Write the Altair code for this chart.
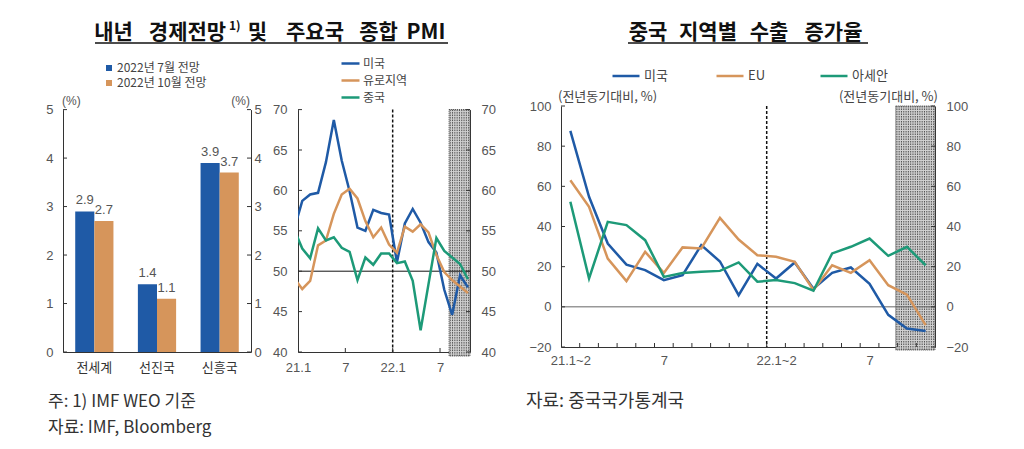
import altair as alt
import numpy as np
import pandas as pd

# ---------------- data ----------------
bar_regions = ["전세계", "선진국", "신흥국"]
bar_series = ["2022년 7월 전망", "2022년 10월 전망"]
jul_forecast = [2.9, 1.4, 3.9]
oct_forecast = [2.7, 1.1, 3.7]

pmi_series = ["미국", "유로지역", "중국"]
pmi_months = ["20.12", "21.1", "21.2", "21.3", "21.4", "21.5", "21.6", "21.7", "21.8", "21.9",
              "21.10", "21.11", "21.12", "22.1", "22.2", "22.3", "22.4", "22.5", "22.6", "22.7",
              "22.8", "22.9", "22.10"]
pmi_us = [55.3, 58.7, 59.5, 59.7, 63.5, 68.7, 63.7, 59.9, 55.4, 55.0, 57.6, 57.2, 57.0,
          51.1, 55.9, 57.7, 56.0, 53.6, 52.3, 47.7, 44.6, 49.5, 48.0]
pmi_euro = [49.1, 47.8, 48.8, 53.2, 53.8, 57.1, 59.5, 60.2, 59.0, 56.2, 54.2, 55.4, 53.3,
            52.3, 55.5, 54.9, 55.8, 54.8, 52.0, 49.9, 48.9, 48.1, 47.3]
pmi_china = [55.1, 52.8, 51.6, 55.3, 53.8, 54.2, 52.9, 52.4, 48.9, 51.7, 50.8, 52.2, 52.2,
             51.0, 51.2, 48.8, 42.7, 48.4, 54.1, 52.5, 51.7, 50.9, 49.0]
pmi_tick_labels = ["21.1", "7", "22.1", "7"]

exp_series = ["미국", "EU", "아세안"]
exp_periods = ["21.1~2", "21.3", "21.4", "21.5", "21.6", "21.7", "21.8", "21.9", "21.10",
               "21.11", "21.12", "22.1~2", "22.3", "22.4", "22.5", "22.6", "22.7", "22.8",
               "22.9", "22.10"]
exp_us = [87.6, 54.8, 31.5, 21.0, 18.3, 13.3, 15.8, 30.7, 22.6, 5.8, 21.4, 14.1, 22.1,
          9.0, 16.9, 19.6, 11.5, -4.0, -10.8, -12.0]
exp_eu = [63.0, 49.8, 24.0, 12.8, 27.4, 16.9, 29.6, 29.1, 44.3, 33.5, 25.7, 24.9, 22.4,
          8.3, 20.7, 16.9, 23.2, 10.8, 6.1, -9.1]
exp_asean = [52.3, 14.1, 42.3, 40.7, 33.2, 14.9, 16.8, 17.5, 17.9, 22.1, 12.5, 13.3, 11.8,
             8.0, 26.6, 29.9, 34.0, 25.4, 29.9, 20.7]
exp_tick_labels = {"21.1~2": "21.1~2", "21.7": "7", "22.1~2": "22.1~2", "22.7": "7"}

title_left_words = ["내년", "경제전망", "및", "주요국", "종합", "PMI"]
title_right_words = ["중국", "지역별", "수출", "증가율"]

# ---------------- style ----------------
KR = "Noto Sans CJK KR"
NUM = "Liberation Sans"
BLUE = "#1f5aa6"
ORANGE = "#d6955b"
GREEN = "#1d9a78"
AXIS = "#333333"
LBL = "#555555"

H1 = 246          # bar/PMI panel height (group top to baseline)
TOP1 = 3.6        # top of bar/PMI scales inside the group
W_BAR, W_PMI, W_EXP, H_EXP = 188, 172, 374, 241
GAP = 10
PMI_OFFSET = 0.54
PMI_DOMAIN = [0, 21.8]
PMI_SHADE = (19.15, 21.8)
EXP_SHADE = (17.9, 20)
HATCH_PX = 2.3
TITLE_Y = -73

# word centres (pixels, relative to each panel's plot origin)
title_left_x = [50.5, 124.5, 194.5, 252, 315.5, 363]
title_right_x = [87, 147, 208, 272.5]

one = pd.DataFrame({"a": [0]})


def txt(text, x, y, size=12, align="left", color="#444444", weight="normal", font=KR,
        baseline="middle"):
    return alt.Chart(one).mark_text(text=text, align=align, baseline=baseline, font=font,
                                    fontSize=size, fontWeight=weight, color=color).encode(
        x=alt.value(x), y=alt.value(y))


def hline(x1, x2, y, color="#111111", width=1.5):
    return alt.Chart(one).mark_rule(color=color, strokeWidth=width).encode(
        x=alt.value(x1), x2=alt.value(x2), y=alt.value(y))


def pin(x, y):
    return alt.Chart(one).mark_rect(opacity=0).encode(
        x=alt.value(x), x2=alt.value(x + 1), y=alt.value(y), y2=alt.value(y + 1))


def spacer(w):
    return alt.Chart(one).mark_point(opacity=0).encode(
        x=alt.value(0), y=alt.value(0)).properties(width=w, height=H1)


def yaxis_left(values, pad):
    return alt.Axis(orient="left", values=values, title=None, tickSize=0, labelPadding=pad,
                    domainColor=AXIS, labelColor=LBL, labelFont=NUM, labelFontSize=13,
                    grid=False)


def yaxis_right(values, pad):
    return alt.Axis(orient="right", values=values, title=None, tickSize=0, labelPadding=pad,
                    domainColor=AXIS, labelColor=LBL, labelFont=NUM, labelFontSize=13,
                    grid=False)


def y_ticks(values, scale, x1, x2, axis):
    df = pd.DataFrame({"v": values})
    return alt.Chart(df).mark_rule(color=AXIS, strokeWidth=1).encode(
        y=alt.Y("v:Q", scale=scale, axis=axis), x=alt.value(x1), x2=alt.value(x2))


def shade_layers(start, end, xscale, xaxis, y1, y2, px_per_unit):
    base = alt.Chart(pd.DataFrame({"s": [start], "e": [end]})).mark_rect(
        fill="#d0d0d0", stroke="#444444", strokeDash=[1, 1], strokeWidth=1).encode(
        x=alt.X("s:Q", scale=xscale, axis=xaxis), x2="e:Q",
        y=alt.value(y1), y2=alt.value(y2))
    step = HATCH_PX / px_per_unit
    hatch_x = np.arange(start + step / 2, end, step)
    hatch = alt.Chart(pd.DataFrame({"h": hatch_x})).mark_rule(
        color="#505050", strokeWidth=1, strokeDash=[1.5, 1]).encode(
        x=alt.X("h:Q", scale=xscale, axis=xaxis), y=alt.value(y1), y2=alt.value(y2))
    return [base, hatch]


# ---------------- bar panel ----------------
bar_df = pd.DataFrame({
    "region": bar_regions * 2,
    "series": [bar_series[0]] * 3 + [bar_series[1]] * 3,
    "value": jul_forecast + oct_forecast,
})
bar_y = alt.Scale(domain=[0, 5], range=[H1, TOP1], nice=False, zero=False)
bar_x = alt.X("region:N", sort=bar_regions,
              scale=alt.Scale(domain=bar_regions, paddingInner=0.39, paddingOuter=0.195),
              axis=alt.Axis(title=None, labelAngle=0, labelFont=KR, labelFontSize=13,
                            labelColor="#333333", ticks=False, labelPadding=9,
                            domainColor=AXIS))
bar_off = alt.XOffset("series:N", sort=bar_series,
                      scale=alt.Scale(domain=bar_series, paddingInner=0, paddingOuter=0))

bars = alt.Chart(bar_df).mark_bar().encode(
    x=bar_x, xOffset=bar_off,
    y=alt.Y("value:Q", scale=bar_y, axis=yaxis_left([0, 1, 2, 3, 4, 5], 10)),
    color=alt.Color("series:N", sort=bar_series,
                    scale=alt.Scale(domain=bar_series, range=[BLUE, ORANGE]),
                    legend=alt.Legend(orient="none", legendX=40, legendY=-44, title=None,
                                      symbolType="square", symbolSize=36, symbolStrokeWidth=0,
                                      labelFont=KR, labelFontSize=12, labelColor="#444444",
                                      labelOffset=2, rowPadding=3, padding=0, offset=0)),
)
bar_text = alt.Chart(bar_df).mark_text(baseline="bottom", dy=-4, font=NUM, fontSize=13,
                                       color=LBL).encode(
    x=bar_x, xOffset=bar_off,
    y=alt.Y("value:Q", scale=bar_y, axis=None),
    text=alt.Text("value:Q", format=".1f"),
)
bar_lt = y_ticks([0, 1, 2, 3, 4, 5], bar_y, 0, 4, None)
bar_rt = y_ticks([0, 1, 2, 3, 4, 5], bar_y, W_BAR - 4, W_BAR, yaxis_right([0, 1, 2, 3, 4, 5], 3))

left_title = [txt(w, x, TITLE_Y, size=21, align="center", weight="bold", color="#111111")
              for w, x in zip(title_left_words, title_left_x)]

bar_panel = alt.layer(
    pin(-55, -97.7), pin(-55, 334), bars, bar_text, bar_lt, bar_rt,
    txt("(%)", -1, -5, size=12, font=NUM, color=LBL),
    txt("(%)", W_BAR - 1, -5, size=12, align="right", font=NUM, color=LBL),
    *left_title,
    txt("1)", 166, -80, size=12, weight="bold", color="#111111"),
    hline(32, 385, -63),
    txt("주: 1) IMF WEO 기준", -15, 296, size=17, color="#333333"),
    txt("자료: IMF, Bloomberg", -15, 322, size=17, color="#333333"),
).resolve_scale(y="independent").properties(width=W_BAR, height=H1)

# ---------------- PMI panel ----------------
pmi_rows = []
for name, vals in zip(pmi_series, [pmi_us, pmi_euro, pmi_china]):
    for i, (m, v) in enumerate(zip(pmi_months, vals)):
        pmi_rows.append({"month": m, "t": i - 1 + PMI_OFFSET, "value": v, "series": name})
pmi_df = pd.DataFrame(pmi_rows)

pmi_y = alt.Scale(domain=[40, 70], range=[H1, TOP1], nice=False, zero=False)
pmi_xs = alt.Scale(domain=PMI_DOMAIN, nice=False, zero=False)
pmi_tick_vals = [0, 6, 12, 18]
label_expr = " : ".join(
    f"datum.value == {v} ? '{l}'" for v, l in zip(pmi_tick_vals, pmi_tick_labels)) + " : ''"
pmi_xaxis = alt.Axis(values=pmi_tick_vals, labelExpr=label_expr, title=None, tickSize=0,
                     labelPadding=9, labelFont=NUM, labelFontSize=13, labelColor=LBL,
                     domainColor=AXIS, grid=False, labelFlush=False)

pmi_shade = shade_layers(PMI_SHADE[0], PMI_SHADE[1], pmi_xs, pmi_xaxis, TOP1, H1 + 4,
                         W_PMI / (PMI_DOMAIN[1] - PMI_DOMAIN[0]))

pmi_lines = alt.Chart(pmi_df).mark_line(strokeWidth=2.5, clip=True).encode(
    x=alt.X("t:Q", scale=pmi_xs, axis=pmi_xaxis),
    y=alt.Y("value:Q", scale=pmi_y, axis=yaxis_left([40, 45, 50, 55, 60, 65, 70], 11)),
    color=alt.Color("series:N", sort=pmi_series,
                    scale=alt.Scale(domain=pmi_series, range=[BLUE, ORANGE, GREEN]),
                    legend=alt.Legend(orient="none", legendX=42, legendY=-53, title=None,
                                      symbolType="stroke", symbolSize=324,
                                      symbolStrokeWidth=2.5, labelFont=KR, labelFontSize=12,
                                      labelColor="#444444", labelOffset=2, rowPadding=-3,
                                      padding=0, offset=0)),
    order=alt.Order("t:Q"),
)
pmi_50 = alt.Chart(pd.DataFrame({"v": [50]})).mark_rule(color="#111111", strokeWidth=1).encode(
    y=alt.Y("v:Q", scale=pmi_y, axis=None), x=alt.value(0), x2=alt.value(W_PMI))
pmi_dash = alt.Chart(pd.DataFrame({"v": [12]})).mark_rule(
    color="#111111", strokeWidth=1.5, strokeDash=[3, 2]).encode(
    x=alt.X("v:Q", scale=pmi_xs, axis=pmi_xaxis), y=alt.value(TOP1), y2=alt.value(H1))
pmi_xt = alt.Chart(pd.DataFrame({"v": pmi_tick_vals[1:]})).mark_rule(
    color=AXIS, strokeWidth=1).encode(
    x=alt.X("v:Q", scale=pmi_xs, axis=pmi_xaxis), y=alt.value(H1), y2=alt.value(H1 - 4))
pmi_lt = y_ticks([40, 45, 50, 55, 60, 65, 70], pmi_y, 0, 4, None)
pmi_rt = y_ticks([40, 45, 50, 55, 60, 65, 70], pmi_y, W_PMI - 4, W_PMI,
                 yaxis_right([40, 45, 50, 55, 60, 65, 70], 11))

pmi_panel = alt.layer(
    *pmi_shade, pmi_50, pmi_dash, pmi_lines, pmi_xt, pmi_lt, pmi_rt,
).resolve_scale(y="independent").properties(width=W_PMI, height=H1)

# ---------------- export panel ----------------
exp_rows = []
for name, vals in zip(exp_series, [exp_us, exp_eu, exp_asean]):
    for i, (p, v) in enumerate(zip(exp_periods, vals)):
        exp_rows.append({"period": p, "k": i + 0.5, "value": v, "series": name})
exp_df = pd.DataFrame(exp_rows)

exp_y = alt.Scale(domain=[-20, 100], nice=False, zero=False)
exp_xs = alt.Scale(domain=[0, len(exp_periods)], nice=False, zero=False)
exp_lab_vals = [exp_periods.index(p) + 0.5 for p in exp_tick_labels]
exp_label_expr = " : ".join(
    f"datum.value == {v} ? '{l}'" for v, l in zip(exp_lab_vals, exp_tick_labels.values())) + " : ''"
exp_xaxis = alt.Axis(values=exp_lab_vals, labelExpr=exp_label_expr, title=None,
                     tickSize=0, labelPadding=7, labelFont=NUM, labelFontSize=13,
                     labelColor=LBL, domainColor=AXIS, grid=False, labelFlush=False)
yv = [-20, 0, 20, 40, 60, 80, 100]

exp_shade = shade_layers(EXP_SHADE[0], EXP_SHADE[1], exp_xs, exp_xaxis, 0, H_EXP + 3,
                         W_EXP / len(exp_periods))
exp_lines = alt.Chart(exp_df).mark_line(strokeWidth=2.5).encode(
    x=alt.X("k:Q", scale=exp_xs, axis=exp_xaxis),
    y=alt.Y("value:Q", scale=exp_y, axis=yaxis_left(yv, 10)),
    color=alt.Color("series:N", sort=exp_series,
                    scale=alt.Scale(domain=exp_series, range=[BLUE, ORANGE, GREEN]),
                    legend=alt.Legend(orient="none", legendX=50, legendY=-45, title=None,
                                      direction="horizontal", columns=3, gridAlign="all",
                                      columnPadding=31, symbolType="stroke", symbolSize=729,
                                      symbolStrokeWidth=2.5, labelFont=KR, labelFontSize=13,
                                      labelColor="#444444", labelOffset=3, padding=0,
                                      offset=0)),
    order=alt.Order("k:Q"),
)
exp_0 = alt.Chart(pd.DataFrame({"v": [0]})).mark_rule(color="#666666", strokeWidth=1).encode(
    y=alt.Y("v:Q", scale=exp_y, axis=None), x=alt.value(0), x2=alt.value(W_EXP))
exp_dash = alt.Chart(pd.DataFrame({"v": [exp_periods.index("22.1~2")]})).mark_rule(
    color="#111111", strokeWidth=1.5, strokeDash=[3, 2]).encode(
    x=alt.X("v:Q", scale=exp_xs, axis=exp_xaxis), y=alt.value(0), y2=alt.value(H_EXP))
exp_xt = alt.Chart(pd.DataFrame({"v": list(range(1, len(exp_periods)))})).mark_rule(
    color=AXIS, strokeWidth=1).encode(
    x=alt.X("v:Q", scale=exp_xs, axis=exp_xaxis), y=alt.value(H_EXP), y2=alt.value(H_EXP - 4))
exp_lt = y_ticks(yv, exp_y, 0, 4, None)
exp_rt = y_ticks(yv, exp_y, W_EXP - 4, W_EXP, yaxis_right(yv, 11))

right_title = [txt(w, x, TITLE_Y, size=21, align="center", weight="bold", color="#111111")
               for w, x in zip(title_right_words, title_right_x)]

exp_panel = alt.layer(
    *exp_shade, exp_0, exp_dash, exp_lines, exp_xt, exp_lt, exp_rt,
    txt("(전년동기대비, %)", -3, -9, size=13, color="#444444"),
    txt("(전년동기대비, %)", W_EXP + 3, -9, size=13, align="right", color="#444444"),
    *right_title,
    hline(67, 307, -63),
    txt("자료: 중국국가통계국", -35, 296, size=18, color="#333333"),
).resolve_scale(y="independent").properties(width=W_EXP, height=H_EXP)

chart = alt.hconcat(
    bar_panel, spacer(46.7 - 2 * GAP), pmi_panel, spacer(90.3 - 2 * GAP), exp_panel,
    spacing=GAP, bounds="flush",
).resolve_scale(color="independent").resolve_legend(color="independent").properties(
    padding=0).configure_view(stroke=None)

chart.save("out.html", embed_options={"renderer": "svg", "actions": False})
